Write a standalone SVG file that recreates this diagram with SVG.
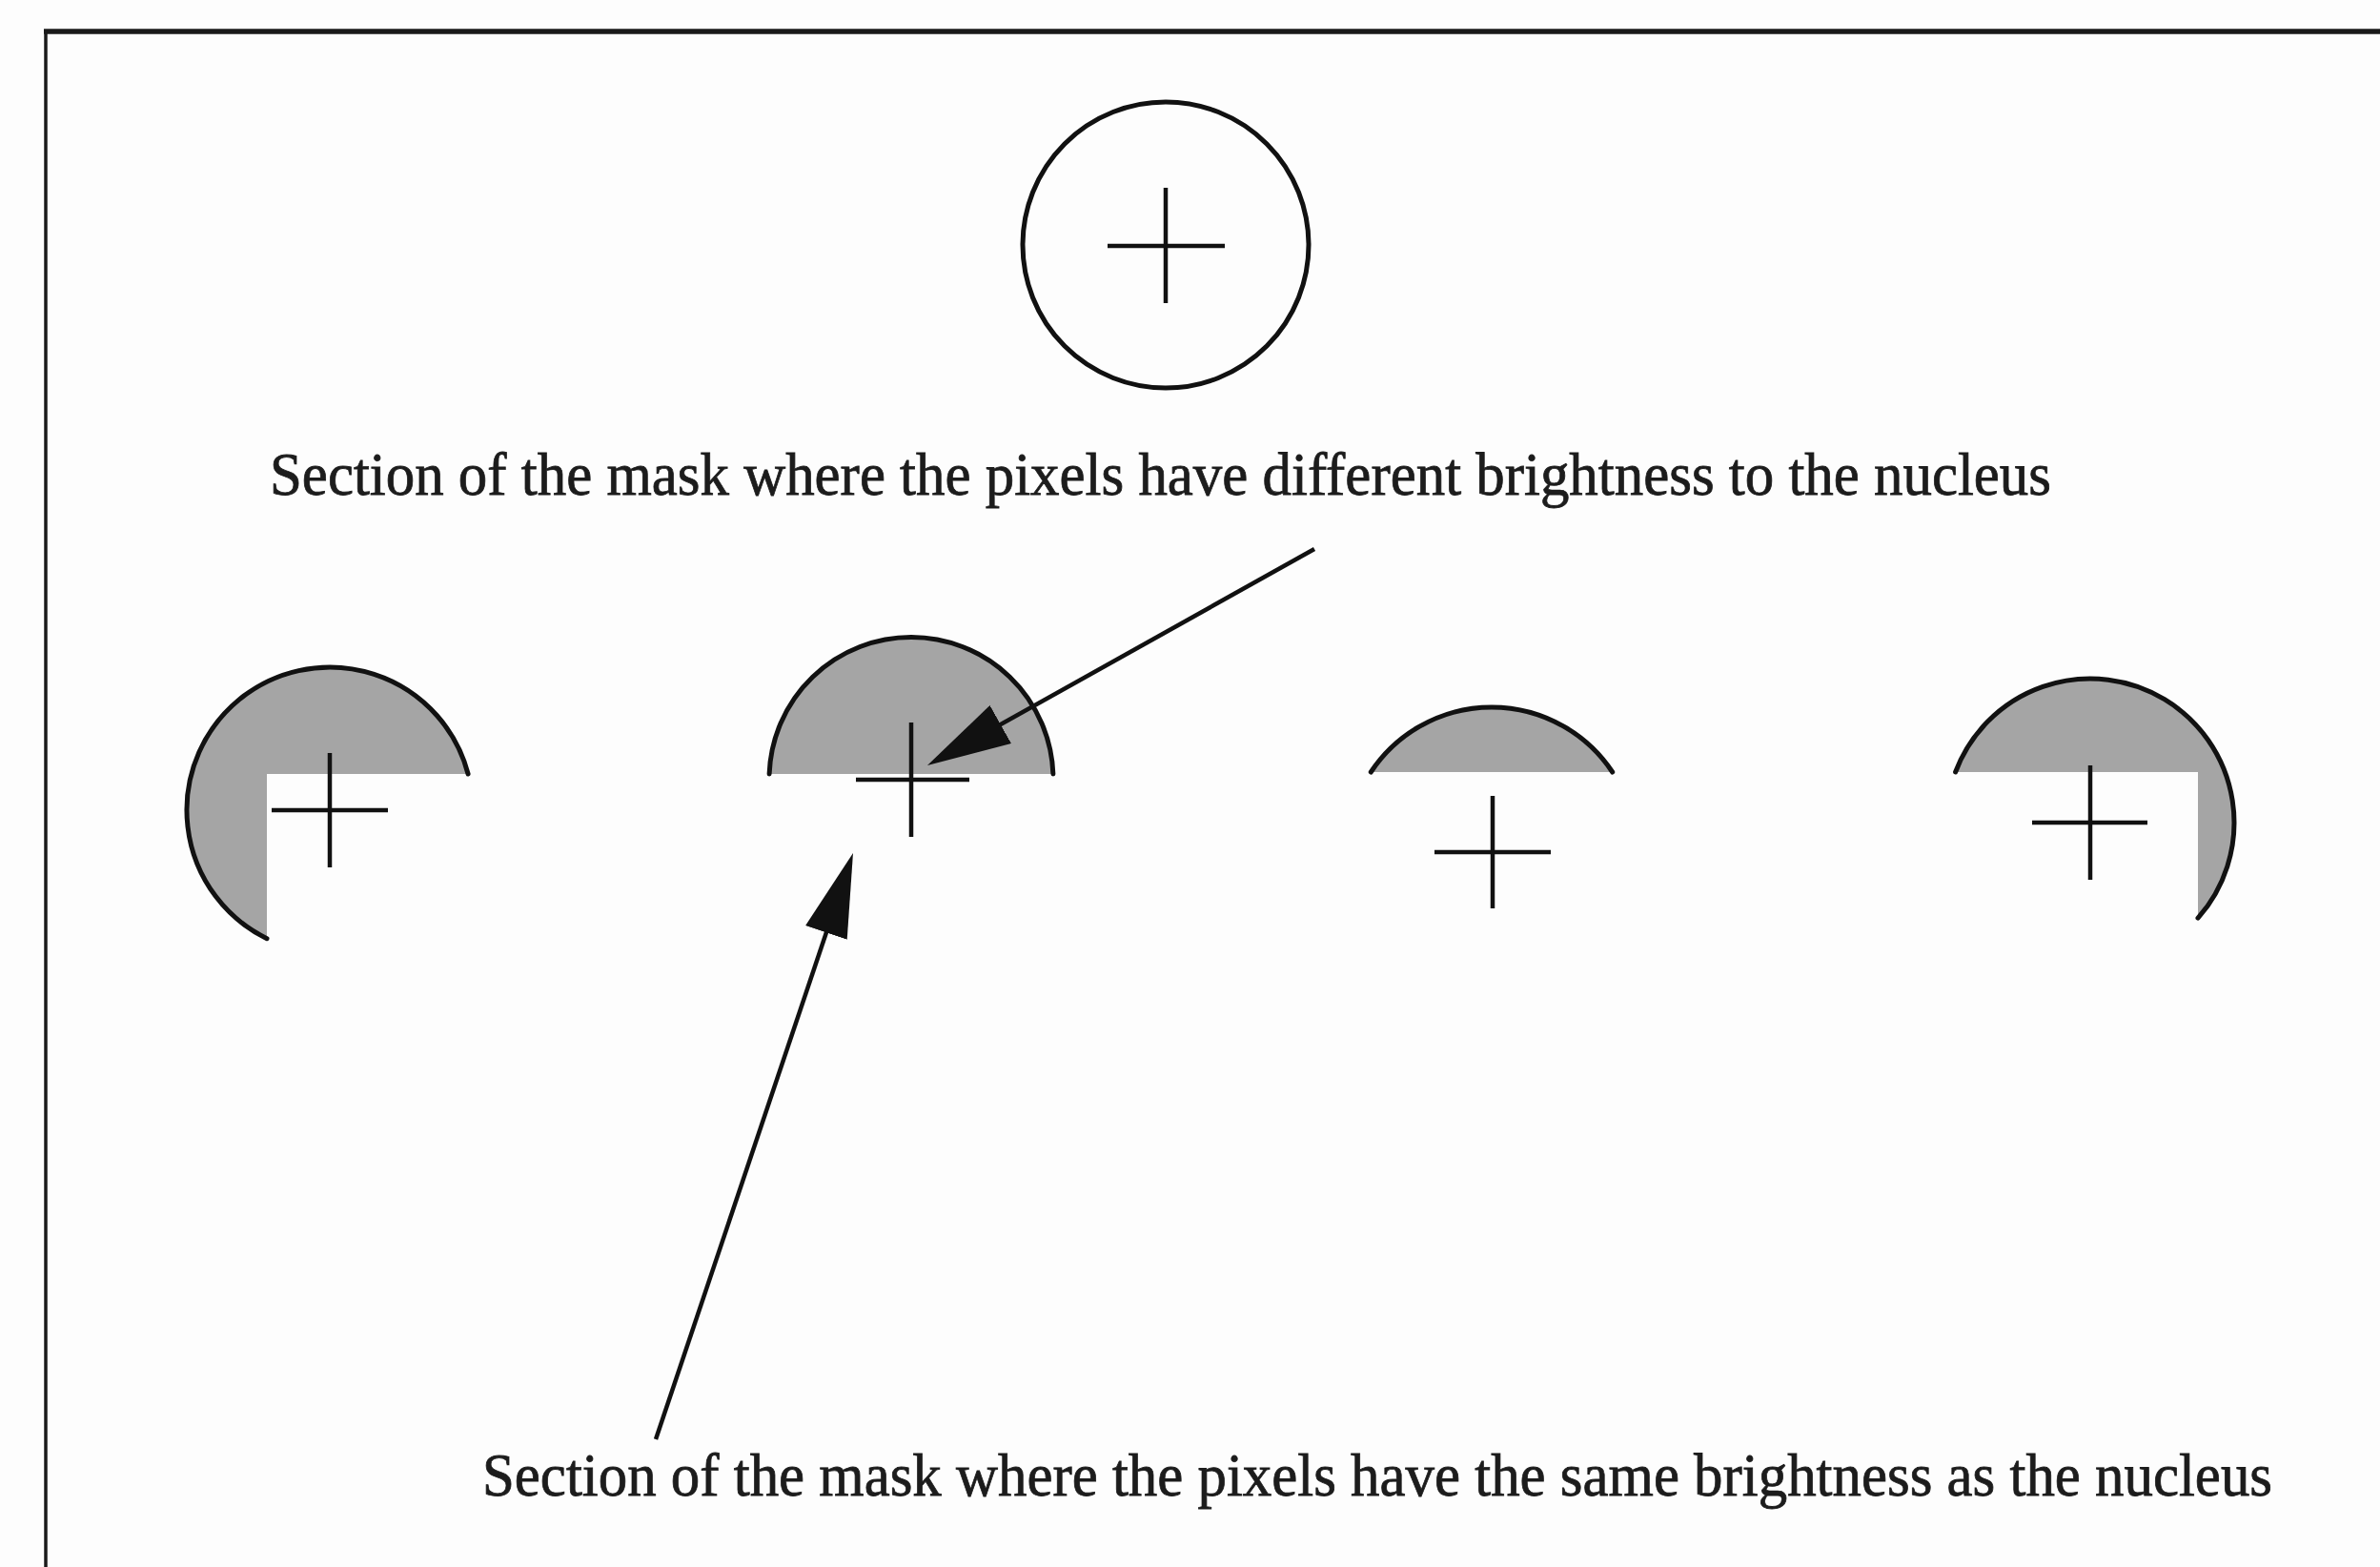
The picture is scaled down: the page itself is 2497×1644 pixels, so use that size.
<svg xmlns="http://www.w3.org/2000/svg" width="2497" height="1644" viewBox="0 0 2497 1644">
<style>
.frame{stroke:#1a1a1a;fill:none}
.ring{fill:none;stroke:#111;stroke-width:5}
.cross{stroke:#111;stroke-width:4.5;fill:none}
.mask{fill:#a5a5a5;stroke:none}
.arc{fill:none;stroke:#111;stroke-width:5;stroke-linecap:round}
.conn{stroke:#111;stroke-width:4.5;fill:none}
.lbl{font-family:"Liberation Serif","Times New Roman",serif;font-size:64px;fill:#1c1c1c;stroke:#1c1c1c;stroke-width:0.8}
</style>
<defs>
<marker id="ah" markerUnits="userSpaceOnUse" viewBox="0 0 88 46" markerWidth="88" markerHeight="46" refX="78" refY="23" orient="auto">
<path d="M0,0 L88,23 L0,46 Z" fill="#111"/>
</marker>
</defs>
<rect x="0" y="0" width="2497" height="1644" fill="#fdfdfd"/>
<g id="frame">
<line class="frame" x1="46" y1="33" x2="2497" y2="33" stroke-width="5.5"/>
<line class="frame" x1="48" y1="31" x2="48" y2="1644" stroke-width="3.5"/>
</g>
<g id="nucleus">
<circle class="ring" cx="1223" cy="257" r="150"/>
<line class="cross" x1="1162" y1="258" x2="1285" y2="258"/>
<line class="cross" x1="1223" y1="197" x2="1223" y2="318"/>
</g>
<g id="mask1">
<path class="mask" d="M491.1,812 A150,150 0 1 0 280,984.7 L280,812 Z"/>
<path class="arc" d="M491.1,812 A150,150 0 1 0 280,984.7"/>
<line class="cross" x1="285" y1="850" x2="407" y2="850"/>
<line class="cross" x1="346" y1="790" x2="346" y2="910"/>
</g>
<g id="mask2">
<path class="mask" d="M807.1,812 A149,149 0 0 1 1104.9,812 Z"/>
<path class="arc" d="M807.1,812 A149,149 0 0 1 1104.9,812"/>
<line class="cross" x1="898" y1="818" x2="1017" y2="818"/>
<line class="cross" x1="956" y1="758" x2="956" y2="878"/>
</g>
<g id="mask3">
<path class="mask" d="M1438.3,810 A152,152 0 0 1 1691.7,810 Z"/>
<path class="arc" d="M1438.3,810 A152,152 0 0 1 1691.7,810"/>
<line class="cross" x1="1505" y1="894" x2="1627" y2="894"/>
<line class="cross" x1="1566" y1="835" x2="1566" y2="953"/>
</g>
<g id="mask4">
<path class="mask" d="M2051.6,810 A151,151 0 1 1 2306,963.2 L2306,810 Z"/>
<path class="arc" d="M2051.6,810 A151,151 0 1 1 2306,963.2"/>
<line class="cross" x1="2132" y1="863" x2="2253" y2="863"/>
<line class="cross" x1="2193" y1="803" x2="2193" y2="923"/>
</g>
<g id="label-different">
<text class="lbl" x="283" y="519" textLength="1869" lengthAdjust="spacingAndGlyphs">Section of the mask where the pixels have different brightness to the nucleus</text>
</g>
<g id="label-same">
<text class="lbl" x="506" y="1569" textLength="1878" lengthAdjust="spacingAndGlyphs">Section of the mask where the pixels have the same brightness as the nucleus</text>
</g>
<g id="connectors">
<line class="conn" x1="1379" y1="576" x2="981.7" y2="798.1" marker-end="url(#ah)"/>
<line class="conn" x1="688" y1="1510" x2="891.8" y2="904.5" marker-end="url(#ah)"/>
</g>
</svg>
